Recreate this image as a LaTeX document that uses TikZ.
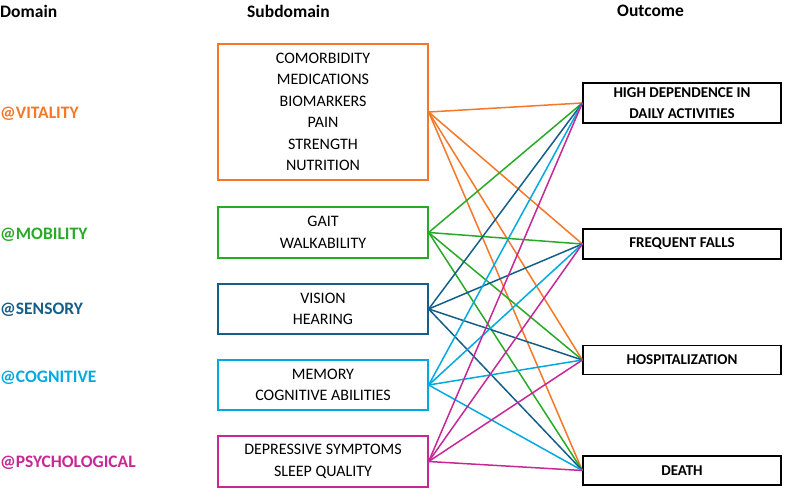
\documentclass[tikz,border=0pt]{standalone}
\usepackage{fontspec}
\setmainfont{Carlito}
\definecolor{cvit}{RGB}{245,120,40}
\definecolor{cmob}{RGB}{40,170,40}
\definecolor{csen}{RGB}{20,95,135}
\definecolor{ccog}{RGB}{0,170,225}
\definecolor{cpsy}{RGB}{200,40,150}
\begin{document}
\begin{tikzpicture}[x=1pt,y=-1pt,
  hdr/.style={font=\bfseries\fontsize{17.5}{20}\selectfont,anchor=west,inner sep=0pt},
  dom/.style={font=\bfseries\fontsize{17.5}{20}\selectfont,anchor=west,inner sep=0pt},
  sub/.style={draw,line width=1.3pt,minimum width=210pt,align=center,font=\fontsize{16}{21.5}\selectfont},
  outbox/.style={draw,line width=1.3pt,minimum width=198pt,align=center,font=\bfseries\fontsize{15}{20.5}\selectfont},
  ln/.style={line width=1.5pt}]
\useasboundingbox (0,0) rectangle (796,492);
\node[hdr] (h1) at (0,11) {Domain};
\node[hdr] (h2) at (247,11) {Subdomain};
\node[hdr] (h3) at (617,11) {Outcome};
\node[dom,cvit] (d1) at (0,114) {@VITALITY};
\node[dom,cmob] (d2) at (0,235) {@MOBILITY};
\node[dom,csen] (d3) at (0,310) {@SENSORY};
\node[dom,ccog] (d4) at (0,378) {@COGNITIVE};
\node[dom,cpsy] (d5) at (0,463) {@PSYCHOLOGICAL};
\node[sub,draw=cvit,minimum height=136pt] (s1) at (323,112) {COMORBIDITY\\MEDICATIONS\\BIOMARKERS\\PAIN\\STRENGTH\\NUTRITION};
\node[sub,draw=cmob,minimum height=51pt] (s2) at (323,232.5) {GAIT\\WALKABILITY};
\node[sub,draw=csen,minimum height=50pt] (s3) at (323,309) {VISION\\HEARING};
\node[sub,draw=ccog,minimum height=50pt] (s4) at (323,385) {MEMORY\\COGNITIVE ABILITIES};
\node[sub,draw=cpsy,minimum height=51pt] (s5) at (323,461.5) {DEPRESSIVE SYMPTOMS\\SLEEP QUALITY};
\node[outbox,minimum height=40pt,inner sep=1pt] (o1) at (682,103) {HIGH DEPENDENCE IN\\DAILY ACTIVITIES};
\node[outbox,minimum height=30pt] (o2) at (682,244) {FREQUENT FALLS};
\node[outbox,minimum height=29pt] (o3) at (682,360) {HOSPITALIZATION};
\node[outbox,minimum height=29pt] (o4) at (682,470.5) {DEATH};
\foreach \s/\c in {s1/cvit,s2/cmob,s3/csen,s4/ccog,s5/cpsy}{
  \foreach \o in {o1,o2,o3,o4}{
    \draw[ln,\c] (\s.east) -- (\o.west);
  }
}
\end{tikzpicture}
\end{document}
